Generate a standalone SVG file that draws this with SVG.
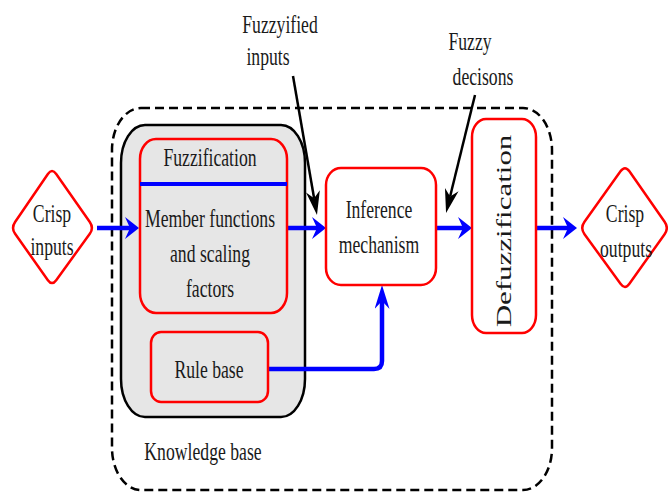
<svg xmlns="http://www.w3.org/2000/svg" width="668" height="492" viewBox="0 0 668 492">
  <style>
    .t { font-family: "Liberation Serif", "Times New Roman", serif; font-size: 26px; fill: #1a1a1a; text-anchor: middle; }
    .red { fill: #ffffff; stroke: #ff0000; stroke-width: 2.5; }
    .redg { fill: #e6e6e6; stroke: #ff0000; stroke-width: 2.5; }
    .blue { fill: none; stroke: #0000ff; stroke-width: 4.5; }
    .blk { fill: none; stroke: #000000; stroke-width: 2.5; }
  </style>
  <defs>
    <marker id="ah" viewBox="0 -11 14 22" markerWidth="14" markerHeight="22" refX="5" refY="0" orient="auto" markerUnits="userSpaceOnUse">
      <path d="M14,0 L0,-11 L5,0 L0,11 Z" fill="#0000ff"/>
    </marker>
    <marker id="av" viewBox="0 -7.5 24 15" markerWidth="24" markerHeight="15" refX="8" refY="0" orient="auto" markerUnits="userSpaceOnUse">
      <path d="M24,0 L0,-7.5 L8,0 L0,7.5 Z" fill="#0000ff"/>
    </marker>
    <marker id="ak" viewBox="0 -7 24 14" markerWidth="24" markerHeight="14" refX="7" refY="0" orient="auto" markerUnits="userSpaceOnUse">
      <path d="M24,0 L0,-7 L7,0 L0,7 Z" fill="#000000"/>
    </marker>
  </defs>

  <g id="fuzzy-controller-boundary">
    <rect x="112" y="108" width="440" height="382" rx="29" ry="42" fill="none" stroke="#000" stroke-width="2.5" stroke-dasharray="9 5"/>
  </g>

  <g id="knowledge-base">
    <rect x="121" y="125" width="184" height="292" rx="24" ry="38" fill="#e6e6e6" stroke="#000" stroke-width="2.5"/>
    <text class="t" transform="translate(203,460) scale(0.68,1)">Knowledge base</text>
  </g>

  <g id="connectors">
    <path class="blue" d="M97,228 H130" marker-end="url(#ah)"/>
    <path class="blue" d="M287,228 H317" marker-end="url(#ah)"/>
    <path class="blue" d="M436,228 H463" marker-end="url(#ah)"/>
    <path class="blue" d="M536,228 H568" marker-end="url(#ah)"/>
    <path class="blue" d="M268,369 H374 Q382,369 382,361 V301" marker-end="url(#av)"/>
    <path class="blk" d="M293,76 L314.1,198.3" marker-end="url(#ak)"/>
    <path class="blk" d="M475,95 L450.1,196.5" marker-end="url(#ak)"/>
  </g>

  <g id="crisp-inputs">
    <path class="red" d="M15.1,222 L47.9,174 Q52,168 56.2,174 L89.8,222 Q94,228 89.8,233.8 L56.2,280.2 Q52,286 47.9,280.2 L15.1,233.8 Q11,228 15.1,222 Z"/>
    <text class="t" transform="translate(52,222) scale(0.68,1)">Crisp</text>
    <text class="t" transform="translate(52,255) scale(0.68,1)">inputs</text>
  </g>

  <g id="fuzzification">
    <rect class="redg" x="140" y="139" width="147" height="174" rx="16" ry="20"/>
    <line x1="140" y1="184" x2="287" y2="184" stroke="#0000ff" stroke-width="4"/>
    <text class="t" transform="translate(210,166) scale(0.68,1)">Fuzzification</text>
    <text class="t" transform="translate(210,227) scale(0.68,1)">Member functions</text>
    <text class="t" transform="translate(210,262) scale(0.68,1)">and scaling</text>
    <text class="t" transform="translate(210,297) scale(0.68,1)">factors</text>
  </g>

  <g id="rule-base">
    <rect class="redg" x="151" y="332" width="117" height="70" rx="10" ry="11"/>
    <text class="t" transform="translate(209,378) scale(0.68,1)">Rule base</text>
  </g>

  <g id="inference-mechanism">
    <rect class="red" x="326" y="168" width="110" height="117" rx="15" ry="17"/>
    <text class="t" transform="translate(379,218) scale(0.68,1)">Inference</text>
    <text class="t" transform="translate(379,253) scale(0.68,1)">mechanism</text>
  </g>

  <g id="defuzzification">
    <rect class="red" x="472" y="119" width="64" height="214" rx="14" ry="18"/>
    <text class="t" style="font-size:31px" transform="translate(511,231) scale(0.68,1) rotate(-90)">Defuzzification</text>
  </g>

  <g id="crisp-outputs">
    <path class="red" d="M584.5,221.7 L620.5,171.3 Q625,165 629.4,171.3 L664.6,221.7 Q669,228 664.6,234.2 L629.4,283.8 Q625,290 620.5,283.8 L584.5,234.2 Q580,228 584.5,221.7 Z"/>
    <text class="t" transform="translate(625,222) scale(0.68,1)">Crisp</text>
    <text class="t" transform="translate(626,257) scale(0.68,1)">outputs</text>
  </g>

  <g id="label-fuzzyified-inputs">
    <text class="t" transform="translate(280,33) scale(0.68,1)">Fuzzyified</text>
    <text class="t" transform="translate(268,65) scale(0.68,1)">inputs</text>
  </g>

  <g id="label-fuzzy-decisions">
    <text class="t" transform="translate(470,50) scale(0.68,1)">Fuzzy</text>
    <text class="t" transform="translate(483,85) scale(0.68,1)">decisons</text>
  </g>
</svg>
